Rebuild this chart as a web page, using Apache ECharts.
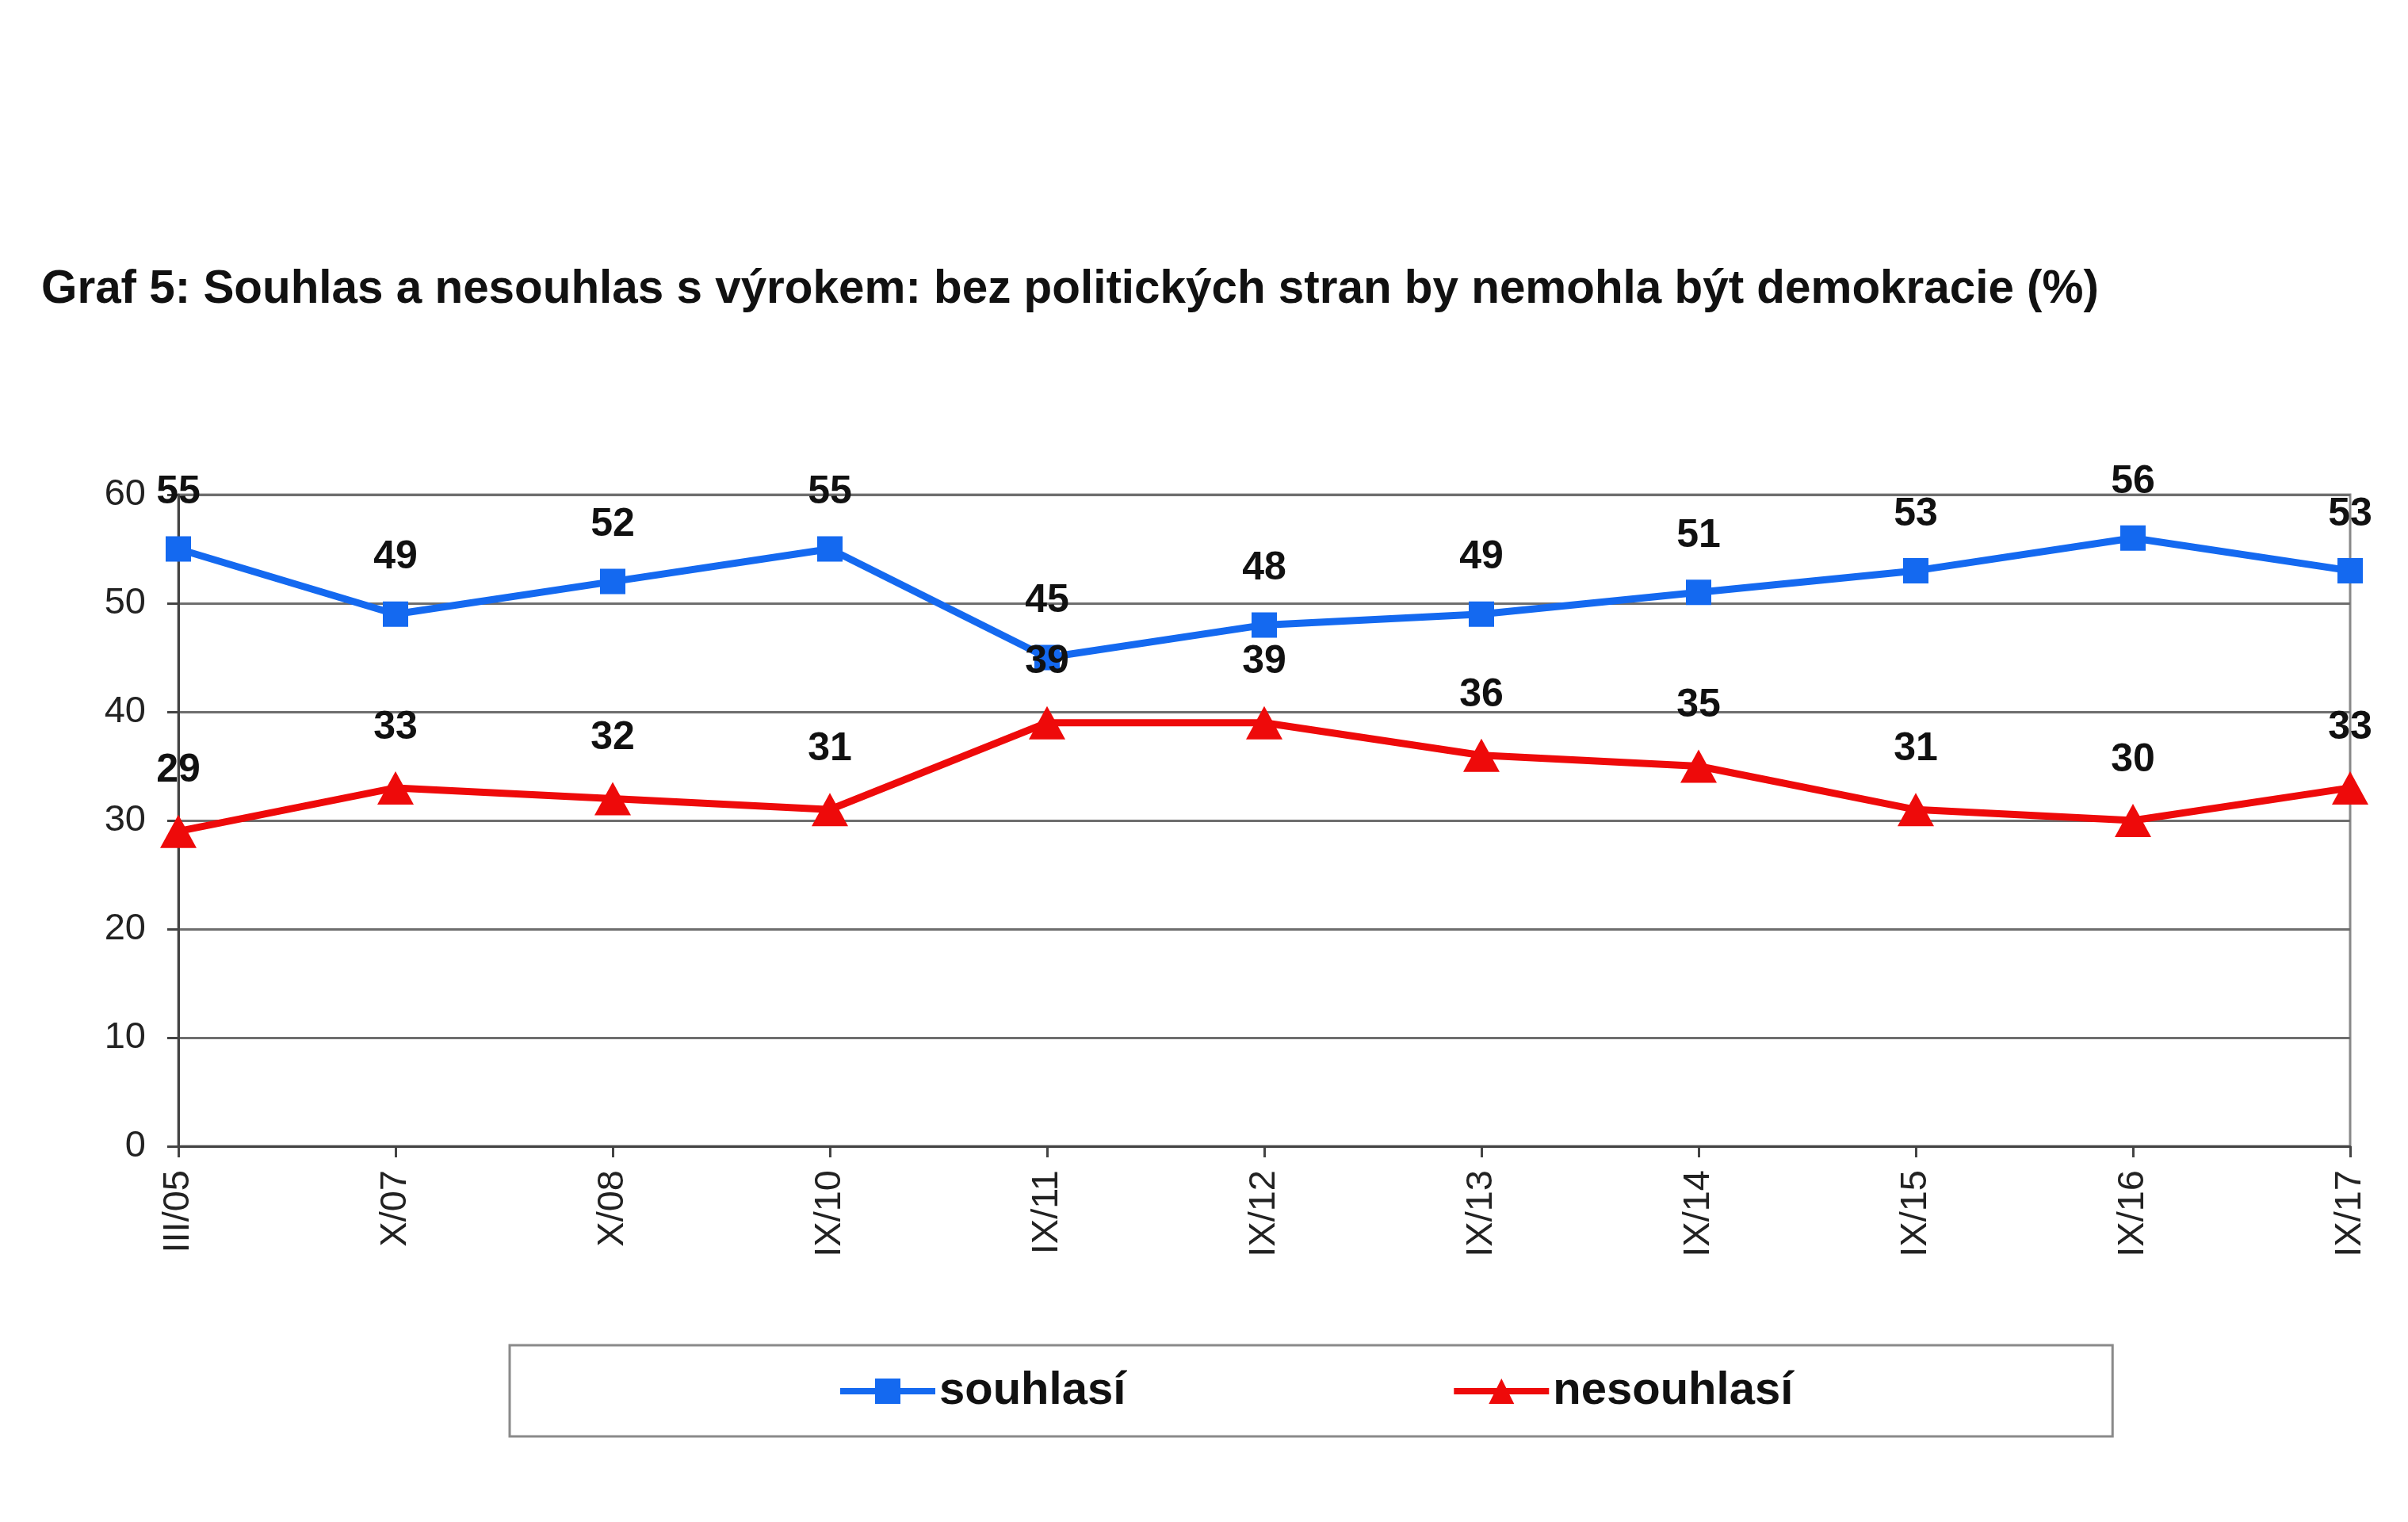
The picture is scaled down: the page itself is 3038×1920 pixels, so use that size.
<!DOCTYPE html>
<html>
<head>
<meta charset="utf-8">
<script src="https://cdn.jsdelivr.net/npm/echarts@6/dist/echarts.min.js"></script>
<style>
html,body{margin:0;padding:0;background:#fff;}
#c{width:3038px;height:1920px;}
</style>
</head>
<body>
<div id="c"></div>
<script>
const categories = ['III/05','X/07','X/08','IX/10','IX/11','IX/12','IX/13','IX/14','IX/15','IX/16','IX/17'];
const souhlasi = [55,49,52,55,45,48,49,51,53,56,53];
const nesouhlasi = [29,33,32,31,39,39,36,35,31,30,33];
const yTicks = {min:0, max:60, interval:10};
const titleText = 'Graf 5: Souhlas a nesouhlas s výrokem: bez politických stran by nemohla být demokracie (%)';

const FONT = '"Liberation Sans", Arial, sans-serif';
const chart = echarts.init(document.getElementById('c'));
chart.setOption({
  backgroundColor:'#fff',
  animation:false,
  title:{
    text:titleText,
    left:52, top:337, padding:0,
    textStyle:{fontFamily:FONT, fontWeight:'bold', fontSize:58.4, color:'#111'}
  },
  grid:{left:225, right:73, top:624, bottom:474, show:true, borderColor:'#888', borderWidth:3, containLabel:false},
  legend:{
    left:643, top:1697,
    padding:[29,403,28,413],
    borderColor:'#8a8a8a', borderWidth:3,
    itemGap:410, itemWidth:120, itemHeight:40,
    lineStyle:{width:8},
    textStyle:{fontFamily:FONT, fontWeight:'bold', fontSize:58, color:'#111'},
    data:['souhlasí','nesouhlasí']
  },
  xAxis:{
    type:'category', data:categories, boundaryGap:false,
    axisLine:{show:true, lineStyle:{color:'#444', width:3}},
    axisTick:{show:true, length:14, lineStyle:{color:'#444', width:3}},
    axisLabel:{rotate:90, margin:30, fontFamily:FONT, fontSize:47, color:'#222'},
    splitLine:{show:false}
  },
  yAxis:{
    type:'value', min:yTicks.min, max:yTicks.max, interval:yTicks.interval,
    axisLine:{show:true, lineStyle:{color:'#444', width:3}},
    axisTick:{show:true, length:14, lineStyle:{color:'#444', width:3}},
    axisLabel:{margin:41, fontFamily:FONT, fontSize:47, color:'#222'},
    splitLine:{show:true, lineStyle:{color:'#6e6e6e', width:3}}
  },
  series:[
    {
      name:'souhlasí', type:'line', data:souhlasi,
      symbol:'rect', symbolSize:32,
      lineStyle:{color:'#1469F0', width:9},
      itemStyle:{color:'#1469F0'},
      label:{show:true, position:'top', distance:30, fontFamily:FONT, fontWeight:'bold', fontSize:50, color:'#111'},
      z:2
    },
    {
      name:'nesouhlasí', type:'line', data:nesouhlasi,
      symbol:'triangle', symbolSize:[46,42],
      lineStyle:{color:'#EE0A0A', width:9},
      itemStyle:{color:'#EE0A0A'},
      label:{show:true, position:'top', distance:30, fontFamily:FONT, fontWeight:'bold', fontSize:50, color:'#111'},
      z:3
    }
  ]
});
</script>
</body>
</html>
